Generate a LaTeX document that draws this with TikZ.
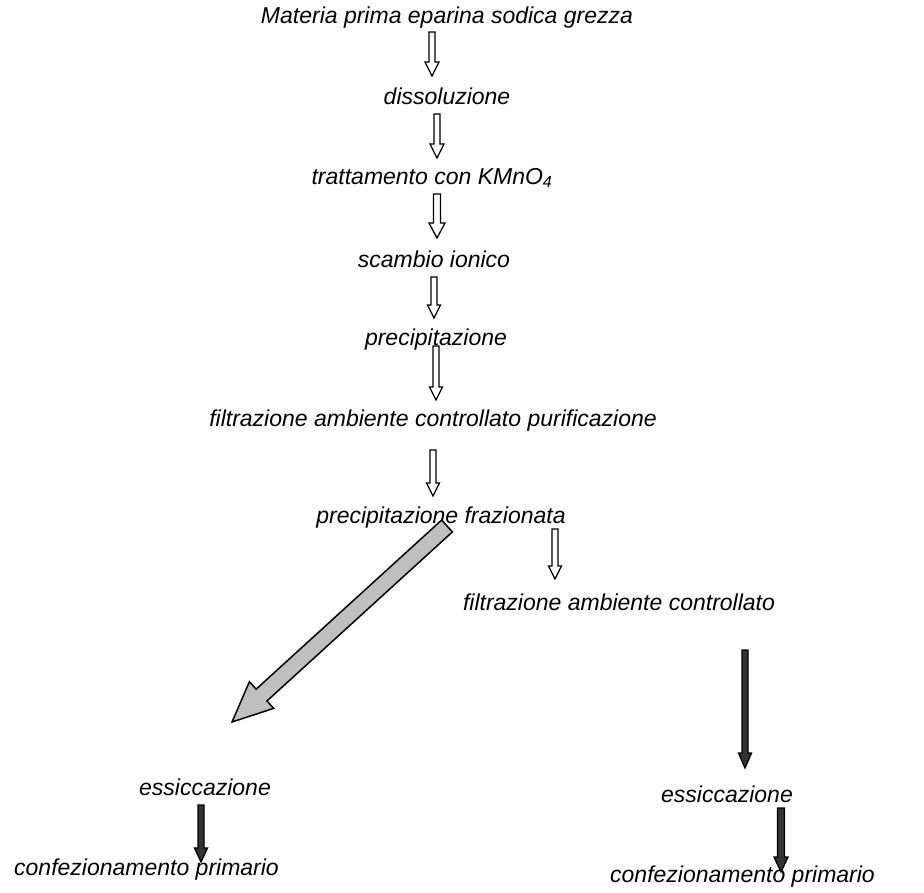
\documentclass[tikz,border=0pt]{standalone}
\usepackage{fontspec}
\setmainfont{Liberation Sans}
\usetikzlibrary{calc}
\tikzset{
  lbl/.style={font=\fontsize{23}{27}\selectfont\itshape, inner sep=0pt, anchor=center},
  hollow/.style={draw=black, line width=1.3pt, fill=white, line join=miter},
  dark/.style={draw=black, line width=1.3pt, fill=black!80, line join=miter},
  grey/.style={draw=black, line width=1.5pt, fill=gray!50, line join=miter}
}
% #1 style, #2 start, #3 end, #4 shaft half width, #5 head half width, #6 head length
\newcommand\blk[6]{%
  \coordinate (hb) at ($(#3)!#6!(#2)$);
  \draw[#1] ($(#2)!#4!90:(#3)$) -- ($(hb)!#4!-90:(#2)$) -- ($(hb)!#5!-90:(#2)$) -- (#3)
     -- ($(hb)!#5!90:(#2)$) -- ($(hb)!#4!90:(#2)$) -- ($(#2)!#4!-90:(#3)$) -- cycle;
}
\begin{document}
\begin{tikzpicture}[x=1pt,y=-1pt]
\useasboundingbox (0,0) rectangle (924,893);
% texts
\node[lbl] (t0) at (447,18) {Materia prima eparina sodica grezza};
\node[lbl] (t1) at (447,96) {dissoluzione};
\node[lbl] (t2) at (432,178) {trattamento con KMnO\textsubscript{4}};
\node[lbl] (t3) at (434,259) {scambio ionico};
\node[lbl] (t4) at (436,340) {precipitazione};
\node[lbl] (t5) at (433,421) {filtrazione ambiente controllato purificazione};
\node[lbl] (t6) at (441,518) {precipitazione frazionata};
\node[lbl] (t7) at (619,602) {filtrazione ambiente controllato};
\node[lbl] (t8) at (205,787) {essiccazione};
\node[lbl, anchor=west] (t9) at (14,870) {confezionamento primario};
\node[lbl] (t10) at (727,794) {essiccazione};
\node[lbl, anchor=west] (t11) at (610,877) {confezionamento primario};
% arrow end points
\coordinate (a1s) at (432,32);  \coordinate (a1e) at (432,76);
\coordinate (a2s) at (437,114); \coordinate (a2e) at (437,158);
\coordinate (a3s) at (437,194); \coordinate (a3e) at (437,238);
\coordinate (a4s) at (434,277); \coordinate (a4e) at (434,318);
\coordinate (a5s) at (436,346); \coordinate (a5e) at (436,400);
\coordinate (a6s) at (433,450); \coordinate (a6e) at (433,496);
\coordinate (a7s) at (555,529); \coordinate (a7e) at (555,579);
\coordinate (a8s) at (447,526); \coordinate (a8e) at (232,722);
\coordinate (a9s) at (745,650); \coordinate (a9e) at (745,768);
\coordinate (a10s) at (201,805); \coordinate (a10e) at (201,862);
\coordinate (a11s) at (781,808); \coordinate (a11e) at (781,872);
% arrows
\blk{hollow}{a1s}{a1e}{3pt}{7pt}{14pt}
\blk{hollow}{a2s}{a2e}{3pt}{7pt}{14pt}
\blk{hollow}{a3s}{a3e}{3.5pt}{8pt}{15pt}
\blk{hollow}{a4s}{a4e}{3pt}{6.5pt}{13pt}
\blk{hollow}{a5s}{a5e}{3pt}{6.5pt}{13pt}
\blk{hollow}{a6s}{a6e}{3pt}{6.5pt}{13pt}
\blk{hollow}{a7s}{a7e}{3pt}{6.5pt}{13pt}
\blk{grey}{a8s}{a8e}{8pt}{18pt}{40pt}
\blk{dark}{a9s}{a9e}{3pt}{6.5pt}{15pt}
\blk{dark}{a10s}{a10e}{3pt}{6.5pt}{14pt}
\blk{dark}{a11s}{a11e}{3.5pt}{7pt}{15pt}
\end{tikzpicture}
\end{document}
